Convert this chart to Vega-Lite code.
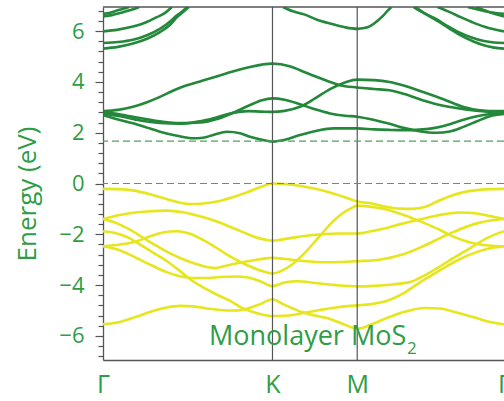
{
"$schema": "https://vega.github.io/schema/vega-lite/v6.json",
"width": 401, "height": 353,
"autosize": {"type": "none"},
"padding": {"left": 103, "top": 7, "right": 0, "bottom": 41},
"config": {"view": {"stroke": null}, "font": "Open Sans"},
"datasets": {
"bands": [
{"b":"V1","t":"v","k":0,"E":-0.21},{"b":"V1","t":"v","k":0.067,"E":-0.22},{"b":"V1","t":"v","k":0.118,"E":-0.27},{"b":"V1","t":"v","k":0.185,"E":-0.42},{"b":"V1","t":"v","k":0.252,"E":-0.62},{"b":"V1","t":"v","k":0.303,"E":-0.76},{"b":"V1","t":"v","k":0.342,"E":-0.81},{"b":"V1","t":"v","k":0.393,"E":-0.79},{"b":"V1","t":"v","k":0.448,"E":-0.71},{"b":"V1","t":"v","k":0.507,"E":-0.55},{"b":"V1","t":"v","k":0.566,"E":-0.35},{"b":"V1","t":"v","k":0.618,"E":-0.15},{"b":"V1","t":"v","k":0.6667,"E":0},{"b":"V1","t":"v","k":0.714,"E":-0.02},{"b":"V1","t":"v","k":0.773,"E":-0.09},{"b":"V1","t":"v","k":0.84,"E":-0.22},{"b":"V1","t":"v","k":0.902,"E":-0.38},{"b":"V1","t":"v","k":0.949,"E":-0.53},{"b":"V1","t":"v","k":1.0,"E":-0.71},{"b":"V1","t":"v","k":1.047,"E":-0.77},{"b":"V1","t":"v","k":1.115,"E":-0.92},{"b":"V1","t":"v","k":1.166,"E":-0.99},{"b":"V1","t":"v","k":1.218,"E":-1.0},{"b":"V1","t":"v","k":1.265,"E":-0.93},{"b":"V1","t":"v","k":1.312,"E":-0.72},{"b":"V1","t":"v","k":1.364,"E":-0.5},{"b":"V1","t":"v","k":1.415,"E":-0.35},{"b":"V1","t":"v","k":1.471,"E":-0.26},{"b":"V1","t":"v","k":1.522,"E":-0.22},{"b":"V1","t":"v","k":1.5774,"E":-0.21},
{"b":"V2","t":"v","k":0,"E":-1.4},{"b":"V2","t":"v","k":0.059,"E":-1.25},{"b":"V2","t":"v","k":0.118,"E":-1.15},{"b":"V2","t":"v","k":0.185,"E":-1.09},{"b":"V2","t":"v","k":0.252,"E":-1.07},{"b":"V2","t":"v","k":0.315,"E":-1.13},{"b":"V2","t":"v","k":0.382,"E":-1.29},{"b":"V2","t":"v","k":0.448,"E":-1.5},{"b":"V2","t":"v","k":0.511,"E":-1.75},{"b":"V2","t":"v","k":0.566,"E":-1.98},{"b":"V2","t":"v","k":0.618,"E":-2.17},{"b":"V2","t":"v","k":0.6667,"E":-2.25},{"b":"V2","t":"v","k":0.726,"E":-2.17},{"b":"V2","t":"v","k":0.785,"E":-2.08},{"b":"V2","t":"v","k":0.863,"E":-2.0},{"b":"V2","t":"v","k":0.93,"E":-1.97},{"b":"V2","t":"v","k":1.0,"E":-1.97},{"b":"V2","t":"v","k":1.055,"E":-1.88},{"b":"V2","t":"v","k":1.115,"E":-1.75},{"b":"V2","t":"v","k":1.178,"E":-1.58},{"b":"V2","t":"v","k":1.245,"E":-1.42},{"b":"V2","t":"v","k":1.324,"E":-1.24},{"b":"V2","t":"v","k":1.404,"E":-1.14},{"b":"V2","t":"v","k":1.463,"E":-1.17},{"b":"V2","t":"v","k":1.522,"E":-1.28},{"b":"V2","t":"v","k":1.5774,"E":-1.4},
{"b":"P","t":"v","k":0,"E":-1.4},{"b":"P","t":"v","k":0.051,"E":-1.55},{"b":"P","t":"v","k":0.106,"E":-1.82},{"b":"P","t":"v","k":0.157,"E":-2.13},{"b":"P","t":"v","k":0.209,"E":-2.45},{"b":"P","t":"v","k":0.264,"E":-2.75},{"b":"P","t":"v","k":0.315,"E":-2.98},{"b":"P","t":"v","k":0.366,"E":-3.17},{"b":"P","t":"v","k":0.413,"E":-3.3},{"b":"P","t":"v","k":0.441,"E":-3.33},{"b":"P","t":"v","k":0.48,"E":-3.25},{"b":"P","t":"v","k":0.523,"E":-3.15},{"b":"P","t":"v","k":0.57,"E":-3.06},{"b":"P","t":"v","k":0.618,"E":-2.98},{"b":"P","t":"v","k":0.6667,"E":-2.93},{"b":"P","t":"v","k":0.716,"E":-2.97},{"b":"P","t":"v","k":0.767,"E":-3.03},{"b":"P","t":"v","k":0.873,"E":-3.1},{"b":"P","t":"v","k":0.94,"E":-3.09},{"b":"P","t":"v","k":1.0,"E":-3.06},{"b":"P","t":"v","k":1.087,"E":-3.0},{"b":"P","t":"v","k":1.178,"E":-2.8},{"b":"P","t":"v","k":1.257,"E":-2.48},{"b":"P","t":"v","k":1.336,"E":-2.1},{"b":"P","t":"v","k":1.404,"E":-1.8},{"b":"P","t":"v","k":1.471,"E":-1.57},{"b":"P","t":"v","k":1.53,"E":-1.45},{"b":"P","t":"v","k":1.5774,"E":-1.4},
{"b":"S","t":"v","k":0,"E":-2.47},{"b":"S","t":"v","k":0.067,"E":-2.4},{"b":"S","t":"v","k":0.13,"E":-2.28},{"b":"S","t":"v","k":0.185,"E":-2.08},{"b":"S","t":"v","k":0.236,"E":-1.93},{"b":"S","t":"v","k":0.291,"E":-1.88},{"b":"S","t":"v","k":0.342,"E":-1.98},{"b":"S","t":"v","k":0.393,"E":-2.22},{"b":"S","t":"v","k":0.441,"E":-2.5},{"b":"S","t":"v","k":0.488,"E":-2.8},{"b":"S","t":"v","k":0.539,"E":-3.08},{"b":"S","t":"v","k":0.586,"E":-3.3},{"b":"S","t":"v","k":0.629,"E":-3.46},{"b":"S","t":"v","k":0.6667,"E":-3.54},{"b":"S","t":"v","k":0.706,"E":-3.42},{"b":"S","t":"v","k":0.745,"E":-3.18},{"b":"S","t":"v","k":0.785,"E":-2.82},{"b":"S","t":"v","k":0.824,"E":-2.4},{"b":"S","t":"v","k":0.863,"E":-1.95},{"b":"S","t":"v","k":0.902,"E":-1.52},{"b":"S","t":"v","k":0.941,"E":-1.18},{"b":"S","t":"v","k":0.971,"E":-1.0},{"b":"S","t":"v","k":1.0,"E":-0.87},{"b":"S","t":"v","k":1.055,"E":-0.92},{"b":"S","t":"v","k":1.115,"E":-1.02},{"b":"S","t":"v","k":1.186,"E":-1.25},{"b":"S","t":"v","k":1.257,"E":-1.53},{"b":"S","t":"v","k":1.324,"E":-1.82},{"b":"S","t":"v","k":1.376,"E":-2.08},{"b":"S","t":"v","k":1.431,"E":-2.28},{"b":"S","t":"v","k":1.483,"E":-2.4},{"b":"S","t":"v","k":1.53,"E":-2.45},{"b":"S","t":"v","k":1.5774,"E":-2.47},
{"b":"Q","t":"v","k":0,"E":-1.88},{"b":"Q","t":"v","k":0.047,"E":-1.95},{"b":"Q","t":"v","k":0.098,"E":-2.12},{"b":"Q","t":"v","k":0.145,"E":-2.4},{"b":"Q","t":"v","k":0.197,"E":-2.72},{"b":"Q","t":"v","k":0.252,"E":-3.06},{"b":"Q","t":"v","k":0.303,"E":-3.45},{"b":"Q","t":"v","k":0.354,"E":-3.85},{"b":"Q","t":"v","k":0.405,"E":-4.15},{"b":"Q","t":"v","k":0.452,"E":-4.4},{"b":"Q","t":"v","k":0.5,"E":-4.62},{"b":"Q","t":"v","k":0.551,"E":-4.92},{"b":"Q","t":"v","k":0.61,"E":-5.12},{"b":"Q","t":"v","k":0.6667,"E":-5.22},{"b":"Q","t":"v","k":0.708,"E":-5.21},{"b":"Q","t":"v","k":0.747,"E":-5.18},{"b":"Q","t":"v","k":0.787,"E":-5.1},{"b":"Q","t":"v","k":0.853,"E":-4.98},{"b":"Q","t":"v","k":0.932,"E":-4.86},{"b":"Q","t":"v","k":1.0,"E":-4.8},{"b":"Q","t":"v","k":1.055,"E":-4.75},{"b":"Q","t":"v","k":1.115,"E":-4.63},{"b":"Q","t":"v","k":1.178,"E":-4.35},{"b":"Q","t":"v","k":1.245,"E":-3.9},{"b":"Q","t":"v","k":1.312,"E":-3.5},{"b":"Q","t":"v","k":1.376,"E":-3.12},{"b":"Q","t":"v","k":1.443,"E":-2.8},{"b":"Q","t":"v","k":1.51,"E":-2.58},{"b":"Q","t":"v","k":1.5774,"E":-2.47},
{"b":"R","t":"v","k":0,"E":-2.47},{"b":"R","t":"v","k":0.047,"E":-2.57},{"b":"R","t":"v","k":0.094,"E":-2.75},{"b":"R","t":"v","k":0.145,"E":-3.0},{"b":"R","t":"v","k":0.197,"E":-3.25},{"b":"R","t":"v","k":0.248,"E":-3.48},{"b":"R","t":"v","k":0.303,"E":-3.65},{"b":"R","t":"v","k":0.354,"E":-3.72},{"b":"R","t":"v","k":0.405,"E":-3.72},{"b":"R","t":"v","k":0.46,"E":-3.68},{"b":"R","t":"v","k":0.519,"E":-3.66},{"b":"R","t":"v","k":0.57,"E":-3.7},{"b":"R","t":"v","k":0.618,"E":-3.85},{"b":"R","t":"v","k":0.6667,"E":-4.04},{"b":"R","t":"v","k":0.714,"E":-3.9},{"b":"R","t":"v","k":0.765,"E":-3.85},{"b":"R","t":"v","k":0.834,"E":-3.92},{"b":"R","t":"v","k":0.913,"E":-4.0},{"b":"R","t":"v","k":1.0,"E":-4.05},{"b":"R","t":"v","k":1.067,"E":-4.03},{"b":"R","t":"v","k":1.146,"E":-3.97},{"b":"R","t":"v","k":1.214,"E":-3.86},{"b":"R","t":"v","k":1.245,"E":-3.72},{"b":"R","t":"v","k":1.312,"E":-3.35},{"b":"R","t":"v","k":1.376,"E":-2.95},{"b":"R","t":"v","k":1.443,"E":-2.55},{"b":"R","t":"v","k":1.51,"E":-2.15},{"b":"R","t":"v","k":1.5774,"E":-1.88},
{"b":"B","t":"v","k":0,"E":-5.54},{"b":"B","t":"v","k":0.067,"E":-5.45},{"b":"B","t":"v","k":0.13,"E":-5.25},{"b":"B","t":"v","k":0.197,"E":-5.02},{"b":"B","t":"v","k":0.252,"E":-4.88},{"b":"B","t":"v","k":0.303,"E":-4.82},{"b":"B","t":"v","k":0.354,"E":-4.84},{"b":"B","t":"v","k":0.409,"E":-4.92},{"b":"B","t":"v","k":0.46,"E":-4.98},{"b":"B","t":"v","k":0.519,"E":-5.0},{"b":"B","t":"v","k":0.57,"E":-4.92},{"b":"B","t":"v","k":0.618,"E":-4.75},{"b":"B","t":"v","k":0.6667,"E":-4.56},{"b":"B","t":"v","k":0.708,"E":-4.75},{"b":"B","t":"v","k":0.747,"E":-4.92},{"b":"B","t":"v","k":0.787,"E":-5.08},{"b":"B","t":"v","k":0.834,"E":-5.2},{"b":"B","t":"v","k":0.873,"E":-5.28},{"b":"B","t":"v","k":0.932,"E":-5.48},{"b":"B","t":"v","k":1.0,"E":-5.72},{"b":"B","t":"v","k":1.055,"E":-5.55},{"b":"B","t":"v","k":1.115,"E":-5.3},{"b":"B","t":"v","k":1.186,"E":-5.05},{"b":"B","t":"v","k":1.265,"E":-4.9},{"b":"B","t":"v","k":1.324,"E":-4.92},{"b":"B","t":"v","k":1.392,"E":-5.08},{"b":"B","t":"v","k":1.463,"E":-5.28},{"b":"B","t":"v","k":1.522,"E":-5.45},{"b":"B","t":"v","k":1.5774,"E":-5.54},
{"b":"C1","t":"c","k":0,"E":2.85},{"b":"C1","t":"c","k":0.059,"E":2.9},{"b":"C1","t":"c","k":0.118,"E":3.02},{"b":"C1","t":"c","k":0.173,"E":3.2},{"b":"C1","t":"c","k":0.224,"E":3.41},{"b":"C1","t":"c","k":0.275,"E":3.65},{"b":"C1","t":"c","k":0.33,"E":3.87},{"b":"C1","t":"c","k":0.382,"E":4.02},{"b":"C1","t":"c","k":0.433,"E":4.17},{"b":"C1","t":"c","k":0.507,"E":4.4},{"b":"C1","t":"c","k":0.578,"E":4.59},{"b":"C1","t":"c","k":0.625,"E":4.68},{"b":"C1","t":"c","k":0.6667,"E":4.72},{"b":"C1","t":"c","k":0.734,"E":4.62},{"b":"C1","t":"c","k":0.775,"E":4.46},{"b":"C1","t":"c","k":0.834,"E":4.22},{"b":"C1","t":"c","k":0.893,"E":4.0},{"b":"C1","t":"c","k":0.932,"E":3.87},{"b":"C1","t":"c","k":1.0,"E":3.78},{"b":"C1","t":"c","k":1.067,"E":3.72},{"b":"C1","t":"c","k":1.127,"E":3.67},{"b":"C1","t":"c","k":1.186,"E":3.52},{"b":"C1","t":"c","k":1.257,"E":3.28},{"b":"C1","t":"c","k":1.344,"E":3.05},{"b":"C1","t":"c","k":1.427,"E":2.92},{"b":"C1","t":"c","k":1.502,"E":2.84},{"b":"C1","t":"c","k":1.5774,"E":2.81},
{"b":"Ca","t":"c","k":0,"E":2.82},{"b":"Ca","t":"c","k":0.067,"E":2.72},{"b":"Ca","t":"c","k":0.146,"E":2.58},{"b":"Ca","t":"c","k":0.224,"E":2.45},{"b":"Ca","t":"c","k":0.303,"E":2.38},{"b":"Ca","t":"c","k":0.382,"E":2.4},{"b":"Ca","t":"c","k":0.452,"E":2.55},{"b":"Ca","t":"c","k":0.511,"E":2.78},{"b":"Ca","t":"c","k":0.57,"E":3.05},{"b":"Ca","t":"c","k":0.625,"E":3.28},{"b":"Ca","t":"c","k":0.6667,"E":3.35},{"b":"Ca","t":"c","k":0.714,"E":3.3},{"b":"Ca","t":"c","k":0.775,"E":3.12},{"b":"Ca","t":"c","k":0.834,"E":2.92},{"b":"Ca","t":"c","k":0.893,"E":2.76},{"b":"Ca","t":"c","k":0.952,"E":2.67},{"b":"Ca","t":"c","k":1.0,"E":2.63},{"b":"Ca","t":"c","k":1.067,"E":2.5},{"b":"Ca","t":"c","k":1.127,"E":2.35},{"b":"Ca","t":"c","k":1.186,"E":2.18},{"b":"Ca","t":"c","k":1.245,"E":2.06},{"b":"Ca","t":"c","k":1.312,"E":2.0},{"b":"Ca","t":"c","k":1.364,"E":2.05},{"b":"Ca","t":"c","k":1.415,"E":2.22},{"b":"Ca","t":"c","k":1.471,"E":2.45},{"b":"Ca","t":"c","k":1.522,"E":2.65},{"b":"Ca","t":"c","k":1.5774,"E":2.74},
{"b":"Cb","t":"c","k":0,"E":2.75},{"b":"Cb","t":"c","k":0.067,"E":2.65},{"b":"Cb","t":"c","k":0.146,"E":2.48},{"b":"Cb","t":"c","k":0.224,"E":2.38},{"b":"Cb","t":"c","k":0.303,"E":2.35},{"b":"Cb","t":"c","k":0.382,"E":2.45},{"b":"Cb","t":"c","k":0.452,"E":2.62},{"b":"Cb","t":"c","k":0.511,"E":2.78},{"b":"Cb","t":"c","k":0.57,"E":2.85},{"b":"Cb","t":"c","k":0.625,"E":2.83},{"b":"Cb","t":"c","k":0.6667,"E":2.82},{"b":"Cb","t":"c","k":0.714,"E":2.86},{"b":"Cb","t":"c","k":0.775,"E":3.02},{"b":"Cb","t":"c","k":0.834,"E":3.35},{"b":"Cb","t":"c","k":0.893,"E":3.72},{"b":"Cb","t":"c","k":0.952,"E":3.98},{"b":"Cb","t":"c","k":1.0,"E":4.09},{"b":"Cb","t":"c","k":1.067,"E":4.07},{"b":"Cb","t":"c","k":1.127,"E":4.0},{"b":"Cb","t":"c","k":1.186,"E":3.85},{"b":"Cb","t":"c","k":1.257,"E":3.61},{"b":"Cb","t":"c","k":1.344,"E":3.3},{"b":"Cb","t":"c","k":1.415,"E":3.02},{"b":"Cb","t":"c","k":1.483,"E":2.88},{"b":"Cb","t":"c","k":1.522,"E":2.85},{"b":"Cb","t":"c","k":1.5774,"E":2.85},
{"b":"C4","t":"c","k":0,"E":2.69},{"b":"C4","t":"c","k":0.059,"E":2.52},{"b":"C4","t":"c","k":0.118,"E":2.37},{"b":"C4","t":"c","k":0.173,"E":2.2},{"b":"C4","t":"c","k":0.224,"E":2.04},{"b":"C4","t":"c","k":0.291,"E":1.88},{"b":"C4","t":"c","k":0.354,"E":1.78},{"b":"C4","t":"c","k":0.393,"E":1.8},{"b":"C4","t":"c","k":0.433,"E":1.91},{"b":"C4","t":"c","k":0.488,"E":2.04},{"b":"C4","t":"c","k":0.539,"E":1.98},{"b":"C4","t":"c","k":0.578,"E":1.84},{"b":"C4","t":"c","k":0.625,"E":1.72},{"b":"C4","t":"c","k":0.6667,"E":1.65},{"b":"C4","t":"c","k":0.716,"E":1.72},{"b":"C4","t":"c","k":0.775,"E":1.91},{"b":"C4","t":"c","k":0.842,"E":2.08},{"b":"C4","t":"c","k":0.905,"E":2.17},{"b":"C4","t":"c","k":1.0,"E":2.17},{"b":"C4","t":"c","k":1.067,"E":2.13},{"b":"C4","t":"c","k":1.127,"E":2.11},{"b":"C4","t":"c","k":1.186,"E":2.1},{"b":"C4","t":"c","k":1.245,"E":2.12},{"b":"C4","t":"c","k":1.312,"E":2.2},{"b":"C4","t":"c","k":1.364,"E":2.33},{"b":"C4","t":"c","k":1.415,"E":2.5},{"b":"C4","t":"c","k":1.471,"E":2.65},{"b":"C4","t":"c","k":1.522,"E":2.74},{"b":"C4","t":"c","k":1.5774,"E":2.78},
{"b":"T1","t":"c","k":0,"E":6.68},{"b":"T1","t":"c","k":0.028,"E":6.72},{"b":"T1","t":"c","k":0.055,"E":6.81},{"b":"T1","t":"c","k":0.083,"E":6.89},{"b":"T1","t":"c","k":0.102,"E":6.95},
{"b":"T2","t":"c","k":0,"E":6.58},{"b":"T2","t":"c","k":0.035,"E":6.63},{"b":"T2","t":"c","k":0.067,"E":6.71},{"b":"T2","t":"c","k":0.098,"E":6.8},{"b":"T2","t":"c","k":0.122,"E":6.87},{"b":"T2","t":"c","k":0.142,"E":6.95},
{"b":"T3","t":"c","k":0,"E":5.99},{"b":"T3","t":"c","k":0.059,"E":6.06},{"b":"T3","t":"c","k":0.118,"E":6.18},{"b":"T3","t":"c","k":0.165,"E":6.33},{"b":"T3","t":"c","k":0.212,"E":6.55},{"b":"T3","t":"c","k":0.244,"E":6.72},{"b":"T3","t":"c","k":0.271,"E":6.95},
{"b":"T4","t":"c","k":0,"E":5.53},{"b":"T4","t":"c","k":0.059,"E":5.57},{"b":"T4","t":"c","k":0.118,"E":5.66},{"b":"T4","t":"c","k":0.173,"E":5.84},{"b":"T4","t":"c","k":0.224,"E":6.09},{"b":"T4","t":"c","k":0.264,"E":6.38},{"b":"T4","t":"c","k":0.291,"E":6.62},{"b":"T4","t":"c","k":0.315,"E":6.8},{"b":"T4","t":"c","k":0.33,"E":6.95},
{"b":"T5","t":"c","k":0,"E":5.31},{"b":"T5","t":"c","k":0.059,"E":5.38},{"b":"T5","t":"c","k":0.118,"E":5.51},{"b":"T5","t":"c","k":0.173,"E":5.7},{"b":"T5","t":"c","k":0.224,"E":5.96},{"b":"T5","t":"c","k":0.264,"E":6.25},{"b":"T5","t":"c","k":0.291,"E":6.55},{"b":"T5","t":"c","k":0.315,"E":6.75},{"b":"T5","t":"c","k":0.338,"E":6.95},
{"b":"TM","t":"c","k":0.708,"E":6.95},{"b":"TM","t":"c","k":0.747,"E":6.78},{"b":"TM","t":"c","k":0.791,"E":6.66},{"b":"TM","t":"c","k":0.842,"E":6.45},{"b":"TM","t":"c","k":0.897,"E":6.29},{"b":"TM","t":"c","k":0.952,"E":6.15},{"b":"TM","t":"c","k":1.0,"E":6.09},{"b":"TM","t":"c","k":1.028,"E":6.12},{"b":"TM","t":"c","k":1.051,"E":6.2},{"b":"TM","t":"c","k":1.079,"E":6.4},{"b":"TM","t":"c","k":1.103,"E":6.62},{"b":"TM","t":"c","k":1.119,"E":6.8},{"b":"TM","t":"c","k":1.134,"E":6.95},
{"b":"T5r","t":"c","k":1.229,"E":6.95},{"b":"T5r","t":"c","k":1.265,"E":6.7},{"b":"T5r","t":"c","k":1.312,"E":6.42},{"b":"T5r","t":"c","k":1.36,"E":6.12},{"b":"T5r","t":"c","k":1.407,"E":5.83},{"b":"T5r","t":"c","k":1.455,"E":5.6},{"b":"T5r","t":"c","k":1.498,"E":5.44},{"b":"T5r","t":"c","k":1.538,"E":5.35},{"b":"T5r","t":"c","k":1.5774,"E":5.31},
{"b":"T4r","t":"c","k":1.222,"E":6.95},{"b":"T4r","t":"c","k":1.261,"E":6.72},{"b":"T4r","t":"c","k":1.308,"E":6.49},{"b":"T4r","t":"c","k":1.352,"E":6.22},{"b":"T4r","t":"c","k":1.399,"E":5.96},{"b":"T4r","t":"c","k":1.447,"E":5.76},{"b":"T4r","t":"c","k":1.498,"E":5.61},{"b":"T4r","t":"c","k":1.538,"E":5.55},{"b":"T4r","t":"c","k":1.5774,"E":5.53},
{"b":"T3r","t":"c","k":1.316,"E":6.95},{"b":"T3r","t":"c","k":1.364,"E":6.75},{"b":"T3r","t":"c","k":1.407,"E":6.55},{"b":"T3r","t":"c","k":1.451,"E":6.36},{"b":"T3r","t":"c","k":1.498,"E":6.18},{"b":"T3r","t":"c","k":1.538,"E":6.07},{"b":"T3r","t":"c","k":1.5774,"E":5.99},
{"b":"T1r","t":"c","k":1.435,"E":6.95},{"b":"T1r","t":"c","k":1.483,"E":6.83},{"b":"T1r","t":"c","k":1.53,"E":6.73},{"b":"T1r","t":"c","k":1.5774,"E":6.68},
{"b":"T2r","t":"c","k":1.467,"E":6.95},{"b":"T2r","t":"c","k":1.506,"E":6.8},{"b":"T2r","t":"c","k":1.542,"E":6.67},{"b":"T2r","t":"c","k":1.5774,"E":6.58}
],
"sym": [{"k":0.6667},{"k":1.0}],
"levels": [{"E":0},{"E":1.67}],
"top": [{"E":6.95}],
"label": [{"k":0.417,"E":-6.35,"s":"Monolayer MoS"}],
"sub": [{"k":1.196,"E":-6.72,"s":"2"}]
},
"resolve": {"axis": {"y": "independent"}},
"layer": [
{
"data": {"name": "bands"},
"mark": {"type": "line", "interpolate": "monotone", "strokeWidth": 2.6, "clip": true},
"encoding": {
"x": {"field": "k", "type": "quantitative", "scale": {"domain": [0, 1.5774], "nice": false, "zero": false},
"axis": {"title": null, "values": [0, 0.6667, 1, 1.5774], "labelExpr": "datum.value < 0.3 ? 'Γ' : datum.value < 0.8 ? 'K' : datum.value < 1.3 ? 'M' : 'Γ'", "ticks": false, "tickSize": 0, "labelPadding": 32, "labelBaseline": "alphabetic", "labelFontSize": 25, "labelFont": "Open Sans", "labelColor": "#2f9d45", "domainColor": "#555555", "domainWidth": 1.3, "grid": false, "labelOverlap": false, "labelBound": false, "labelFlush": false}},
"y": {"field": "E", "type": "quantitative", "scale": {"domain": [-6.95, 6.95], "nice": false, "zero": false},
"axis": {"orient": "left", "title": "Energy (eV)", "values": [-6, -4, -2, 0, 2, 4, 6],
"tickSize": 8, "tickColor": "#555555", "tickWidth": 1.2, "domainColor": "#555555", "domainWidth": 1.3, "grid": false,
"labelFontSize": 22, "labelFont": "Open Sans", "labelColor": "#2f9d45", "labelPadding": 11, "labelOverlap": false, "labelBound": false, "labelFlush": false,
"titleFontSize": 26, "titleFont": "Open Sans", "titleColor": "#2f9d45", "titleFontWeight": "normal", "titleX": -68, "titleY": 186.5, "titleBaseline": "alphabetic", "titleAngle": -90, "titleAlign": "center"}},
"color": {"field": "t", "type": "nominal", "scale": {"domain": ["c", "v"], "range": ["#23883a", "#e6e61c"]}, "legend": null},
"detail": {"field": "b", "type": "nominal"}
}
},
{
"data": {"name": "sym"},
"mark": {"type": "rule", "color": "#555555", "strokeWidth": 1.2},
"encoding": {"x": {"field": "k", "type": "quantitative"}}
},
{
"data": {"name": "levels"},
"mark": {"type": "rule", "color": "#4f9f5f", "strokeWidth": 1.2, "strokeDash": [7, 4]},
"encoding": {"y": {"field": "E", "type": "quantitative",
"axis": {"orient": "left", "title": null, "values": [-6.8,-6.4,-5.6,-5.2,-4.8,-4.4,-3.6,-3.2,-2.8,-2.4,-1.6,-1.2,-0.8,-0.4,0.4,0.8,1.2,1.6,2.4,2.8,3.2,3.6,4.4,4.8,5.2,5.6,6.4,6.8], "labels": false, "domain": false, "grid": false, "tickSize": 5, "tickColor": "#555555", "tickWidth": 1.2}}}
},
{
"data": {"name": "top"},
"mark": {"type": "rule", "color": "#555555", "strokeWidth": 1.3},
"encoding": {"y": {"field": "E", "type": "quantitative", "axis": null}}
},
{
"data": {"name": "label"},
"mark": {"type": "text", "align": "left", "baseline": "alphabetic", "fontSize": 27, "font": "Open Sans", "color": "#2f9d45"},
"encoding": {"x": {"field": "k", "type": "quantitative"}, "y": {"field": "E", "type": "quantitative", "axis": null}, "text": {"field": "s"}}
},
{
"data": {"name": "sub"},
"mark": {"type": "text", "align": "left", "baseline": "alphabetic", "fontSize": 17, "font": "Open Sans", "color": "#2f9d45"},
"encoding": {"x": {"field": "k", "type": "quantitative"}, "y": {"field": "E", "type": "quantitative", "axis": null}, "text": {"field": "s"}}
}
]
}
